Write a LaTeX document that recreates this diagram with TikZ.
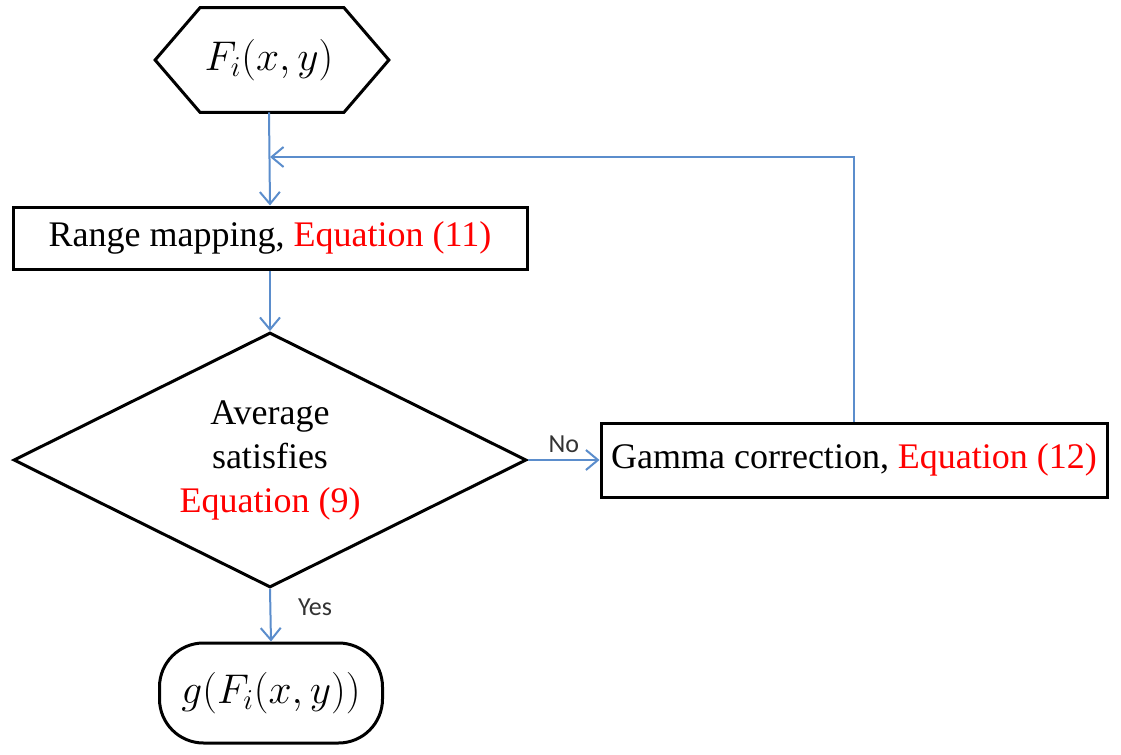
\documentclass[tikz,border=0pt]{standalone}
\usepackage{fontspec}
\setmainfont{Liberation Serif}
\newfontfamily\labelfont{Carlito}
\usepackage{tikz}
\usetikzlibrary{
  arrows.meta,calc,positioning,shapes.geometric
}
\definecolor{FlowBlue}{RGB}{91,141,204}
\definecolor{EqRed}{RGB}{255,0,0}

\begin{document}
\begin{tikzpicture}[x=.5pt,y=-.5pt,>={Straight Barb[length=6pt,width=10pt]},
    box/.style={draw,line width=1.5pt,minimum height=31pt,font=\fontsize{18}{22}\selectfont},
    flow/.style={->,FlowBlue,line width=1pt},
    lbl/.style={font=\labelfont\fontsize{13}{15}\selectfont,text=black!80}]
  \useasboundingbox (0,0) rectangle (1121,755);
  % input
  \node[minimum width=71.5pt,minimum height=52pt,font=\fontsize{21}{25}\selectfont] (start) at (269,60) {$F_i(x,y)$};
  \draw[line width=1.5pt,line join=miter] ([xshift=1.5pt]start.north west) -- ([xshift=1.5pt]start.north east)
    -- ([xshift=24pt]start.east) -- ([xshift=1.5pt]start.south east) -- ([xshift=1.5pt]start.south west)
    -- ([xshift=-21pt]start.west) -- cycle;
  % process
  \node[box,minimum width=257pt] (range) at (270,238) {Range mapping, \textcolor{EqRed}{Equation (11)}};
  \node[diamond,draw,line width=1.5pt,aspect=2,minimum width=256.5pt,minimum height=127.5pt,
    inner sep=0pt,align=center,font=\fontsize{18}{22}\selectfont] (check) at (270,460)
    {Average\\satisfies\\\textcolor{EqRed}{Equation (9)}};
  \node[box,minimum width=253pt,minimum height=37pt] (gamma) at (854,460) {Gamma correction, \textcolor{EqRed}{Equation (12)}};
  \node[draw,line width=1.5pt,rounded corners=22pt,minimum width=111.5pt,minimum height=50pt,
    font=\fontsize{21}{25}\selectfont] (out) at (271,693) {$g(F_i(x,y))$};
  \coordinate (join) at (270,157);
  % connectors
  \draw[flow] (start.south) -- (range.north);
  \draw[flow] (range.south) -- (check.north);
  \draw[flow] (check.east) -- (gamma.west) node[midway,above,lbl]{No};
  \draw[flow] (check.south) -- (out.north) node[pos=.35,right=10pt,lbl]{Yes};
  \draw[flow] (gamma.north) -- (gamma.north |- join) -- (join);
\end{tikzpicture}
\end{document}
